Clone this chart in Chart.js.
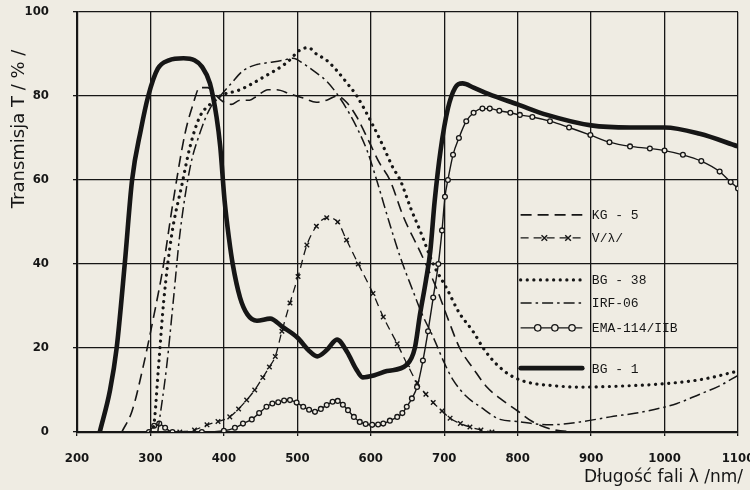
<!DOCTYPE html>
<html>
<head>
<meta charset="utf-8">
<script src="https://cdn.jsdelivr.net/npm/chart.js@4.4.0/dist/chart.umd.min.js"></script>
<style>
  html, body { margin: 0; padding: 0; background: #efece3; }
  #grafico { display: block; }
</style>
</head>
<body>
<canvas id="grafico" width="750" height="490"></canvas>
<script>
// ==================== DATOS ====================
const xTicks = [200, 300, 400, 500, 600, 700, 800, 900, 1000, 1100];
const yTicks = [0, 20, 40, 60, 80, 100];
const seriesNames = ['KG - 5', 'V/\u03BB/', 'BG - 38', 'IRF-06', 'EMA-114/IIB', 'BG - 1'];

const kg5Wl = [261, 275, 290, 305, 317, 331, 347, 358, 367, 378, 390, 400, 410, 422, 435, 445, 460, 472, 490, 508, 526, 540, 554, 567, 581, 598, 612, 626, 645, 667, 690, 705, 721, 740, 758, 776, 800, 820, 850, 880];
const kg5T  = [0, 5, 15.5, 28, 39, 55, 71, 78, 82, 82, 80, 78.5, 78, 79, 79, 80, 81.5, 81.5, 80.5, 79.5, 78.5, 79, 80, 78.5, 75, 69, 64, 60, 51, 43, 34, 27, 20, 15, 10.7, 8, 5, 2.5, 0.5, 0];

const vlWl = [340, 360, 377, 392, 408, 420, 431, 442, 453, 462, 470, 479, 490, 501, 513, 526, 540, 555, 567, 583, 603, 617, 636, 650, 663, 675, 685, 697, 708, 722, 735, 750, 765];
const vlT  = [0, 0.5, 1.7, 2.5, 3.6, 5.5, 7.6, 10, 13, 15.5, 18, 24, 30.7, 37, 44.5, 49, 51, 50, 45.7, 40, 33, 27.4, 21, 16, 11.7, 9, 7, 5, 3.3, 2, 1.2, 0.5, 0];

const bg38Wl = [300, 304, 311, 318, 329, 343, 354, 367, 381, 395, 422, 454, 486, 504, 515, 526, 540, 554, 568, 581, 603, 617, 630, 640, 655, 667, 685, 704, 720, 739, 755, 772, 790, 810, 850, 885, 950, 1000, 1050, 1100];
const bg38T  = [0, 1, 15.5, 31, 47, 59, 68, 75, 78, 80, 81.5, 84.5, 88, 91, 91.5, 90, 88.5, 86, 83, 80, 73, 68, 63, 60, 53, 48, 40, 34, 28.5, 24, 19.5, 16, 13.5, 12, 11, 10.7, 11, 11.5, 12.5, 14.5];

const irfWl = [310, 322, 331, 340, 354, 367, 381, 395, 410, 426, 445, 463, 480, 494, 510, 526, 540, 554, 567, 581, 595, 608, 625, 640, 657, 670, 685, 700, 712, 730, 749, 776, 800, 821, 844, 885, 926, 971, 1017, 1048, 1075, 1100];
const irfT  = [0, 15.5, 31, 47, 63, 71, 77, 80, 83, 86, 87.5, 88, 88.5, 89, 87.5, 85.5, 83.5, 80.5, 77, 72.5, 67, 60, 50, 41.7, 33.8, 28, 22.6, 16.5, 12.4, 8.5, 6, 3, 2.5, 2, 1.7, 2.4, 3.6, 4.8, 6.8, 9, 11, 13.5];

const emaWl = [298, 305, 312, 320, 330, 370, 400, 415, 426, 438, 448, 458, 466, 474, 482, 490, 499, 508, 516, 524, 532, 540, 548, 555, 562, 569, 577, 585, 593, 602, 610, 617, 626, 636, 643, 649, 656, 663, 671, 678, 685, 692, 697, 701, 705, 712, 720, 730, 740, 752, 762, 775, 790, 803, 820, 844, 870, 899, 925, 953, 980, 1000, 1025, 1050, 1075, 1090, 1100];
const emaT  = [0, 1.5, 2, 1, 0, 0, 0.3, 1, 2, 3, 4.5, 6, 6.8, 7.1, 7.5, 7.6, 7, 6, 5.3, 4.8, 5.5, 6.4, 7.2, 7.4, 6.5, 5.2, 3.6, 2.4, 1.9, 1.7, 1.8, 2, 2.7, 3.6, 4.5, 6, 8, 10.7, 17, 24, 32, 40, 48, 56, 60, 66, 70, 74, 76, 77, 77, 76.5, 76, 75.5, 75, 74, 72.5, 70.7, 69, 68, 67.5, 67, 66, 64.5, 62, 59.5, 58];

const bg1Wl = [231, 245, 254, 265, 275, 287, 297, 310, 325, 345, 360, 370, 381, 390, 395, 401, 407, 412, 422, 432, 445, 463, 480, 500, 515, 527, 540, 554, 568, 580, 589, 605, 622, 649, 660, 667, 675, 681, 687, 695, 705, 715, 725, 740, 760, 800, 840, 900, 953, 1000, 1048, 1100];
const bg1T  = [0, 10, 20, 40, 60, 72, 80, 86.5, 88.5, 89, 88.5, 87, 83, 75, 68, 55, 46, 40, 32, 28, 26.5, 27, 25, 22.5, 19.5, 18, 19.5, 22, 19, 15, 13, 13.5, 14.5, 16, 20, 28, 36, 43, 55, 67, 77, 82, 83, 82, 80.5, 78, 75.5, 73, 72.5, 72.5, 71, 68];

// ==================== ESTILO ====================
const TINTA = '#161616';
const FONDO = '#efece3';
const FUENTE_EJES = '"DejaVu Sans Condensed", "Liberation Sans", sans-serif';
const FUENTE_TITULO = '"DejaVu Sans", sans-serif';
const FUENTE_LEYENDA = '"Liberation Mono", "DejaVu Sans Mono", monospace';

// filas de la leyenda (en % de transmisja) y columnas (en nm)
const legendRowsT = [51.7, 46.2, 36.2, 30.7, 24.8, 15.2];
const legendSample = [804, 888];
const legendText = 901;

function puntos(wl, t) {
    return wl.map((x, i) => ({ x: x, y: t[i] }));
}

function serie(i, wl, t, extra) {
    return Object.assign({
        label: seriesNames[i],
        data: puntos(wl, t),
        borderColor: TINTA,
        borderWidth: 1.5,
        pointRadius: 0,
        fill: false,
        cubicInterpolationMode: 'monotone'
    }, extra);
}

// ==================== PLUGINS ====================
const leyenda = {
    id: 'leyenda',
    afterDatasetsDraw(chart) {
        const { ctx, scales: { x, y } } = chart;
        const x0 = x.getPixelForValue(legendSample[0]);
        const x1 = x.getPixelForValue(legendSample[1]);
        const xt = x.getPixelForValue(legendText);
        chart.data.datasets.forEach((ds, i) => {
            const yy = y.getPixelForValue(legendRowsT[i]);
            ctx.save();
            ctx.strokeStyle = ds.borderColor;
            ctx.lineWidth = ds.borderWidth;
            ctx.lineCap = ds.borderCapStyle || 'butt';
            ctx.setLineDash(ds.borderDash || []);
            ctx.beginPath();
            ctx.moveTo(x0, yy);
            ctx.lineTo(x1, yy);
            ctx.stroke();
            ctx.setLineDash([]);
            if (ds.pointRadius > 0) {
                const n = ds.pointStyle === 'circle' ? 3 : 2;
                for (let k = 0; k < n; k++) {
                    const px = x0 + (x1 - x0) * (k + 1) / (n + 0.6);
                    ctx.fillStyle = ds.pointBackgroundColor || FONDO;
                    ctx.strokeStyle = ds.pointBorderColor || TINTA;
                    ctx.lineWidth = ds.pointBorderWidth || 1;
                    Chart.helpers.drawPoint(ctx, {
                        pointStyle: ds.pointStyle,
                        radius: ds.pointRadius + 0.8,
                        borderWidth: ds.pointBorderWidth || 1,
                        rotation: 0
                    }, px, yy);
                }
            }
            ctx.fillStyle = TINTA;
            ctx.font = '13px ' + FUENTE_LEYENDA;
            ctx.textAlign = 'left';
            ctx.textBaseline = 'middle';
            ctx.fillText(ds.label, xt, yy + 1);
            ctx.restore();
        });
    }
};

const titulos = {
    id: 'titulos',
    afterDraw(chart) {
        const ctx = chart.ctx;
        ctx.save();
        ctx.fillStyle = TINTA;
        ctx.textBaseline = 'middle';
        ctx.textAlign = 'right';
        ctx.font = '17px ' + FUENTE_TITULO;
        ctx.fillText('D\u0142ugo\u015B\u0107 fali \u03BB /nm/', 743, 478);
        ctx.translate(19, 129);
        ctx.rotate(-Math.PI / 2);
        ctx.textAlign = 'center';
        ctx.font = '18px ' + FUENTE_TITULO;
        ctx.fillText('Transmisja T / % /', 0, 0);
        ctx.restore();
    }
};

// ==================== GRÁFICO ====================
Chart.defaults.font.family = FUENTE_EJES;
Chart.defaults.color = TINTA;

new Chart(document.getElementById('grafico'), {
    type: 'line',
    data: {
        datasets: [
            serie(0, kg5Wl, kg5T, { borderDash: [11, 6], borderWidth: 1.6 }),
            serie(1, vlWl, vlT, {
                borderDash: [8, 5], borderWidth: 1.3,
                pointRadius: 3.2, pointStyle: 'crossRot', pointBorderWidth: 1.4,
                pointBorderColor: TINTA, pointBackgroundColor: TINTA
            }),
            serie(2, bg38Wl, bg38T, { borderDash: [0.1, 6.5], borderWidth: 3.2, borderCapStyle: 'round' }),
            serie(3, irfWl, irfT, { borderDash: [11, 4, 2.5, 4], borderWidth: 1.5 }),
            serie(4, emaWl, emaT, {
                borderWidth: 1.4,
                pointRadius: 2.4, pointStyle: 'circle', pointBorderWidth: 1.3,
                pointBorderColor: TINTA, pointBackgroundColor: FONDO
            }),
            serie(5, bg1Wl, bg1T, { borderWidth: 4.6, borderCapStyle: 'round' })
        ]
    },
    options: {
        responsive: false,
        animation: false,
        devicePixelRatio: 1,
        layout: { padding: { top: 12, right: 12, bottom: 0, left: 0 } },
        plugins: {
            legend: { display: false },
            tooltip: { enabled: false }
        },
        scales: {
            x: {
                type: 'linear',
                min: 200,
                max: 1100,
                afterBuildTicks: s => { s.ticks = xTicks.map(v => ({ value: v })); },
                afterFit: s => { s.height = 58; s.paddingLeft = 0; s.paddingRight = 0; },
                ticks: {
                    font: { size: 13, weight: 'bold' },
                    padding: 15,
                    maxRotation: 0,
                    callback: v => String(v)
                },
                grid: { color: TINTA, lineWidth: 1.3, tickLength: 4 },
                border: { color: TINTA, width: 2.2 }
            },
            y: {
                min: 0,
                max: 100,
                afterBuildTicks: s => { s.ticks = yTicks.map(v => ({ value: v })); },
                afterFit: s => { s.width = 77; s.paddingTop = 0; s.paddingBottom = 0; },
                ticks: {
                    font: { size: 13, weight: 'bold' },
                    padding: 24,
                    callback: v => String(v)
                },
                grid: { color: TINTA, lineWidth: 1.3, tickLength: 4 },
                border: { color: TINTA, width: 2.2 }
            }
        }
    },
    plugins: [leyenda, titulos]
});
</script>
</body>
</html>
